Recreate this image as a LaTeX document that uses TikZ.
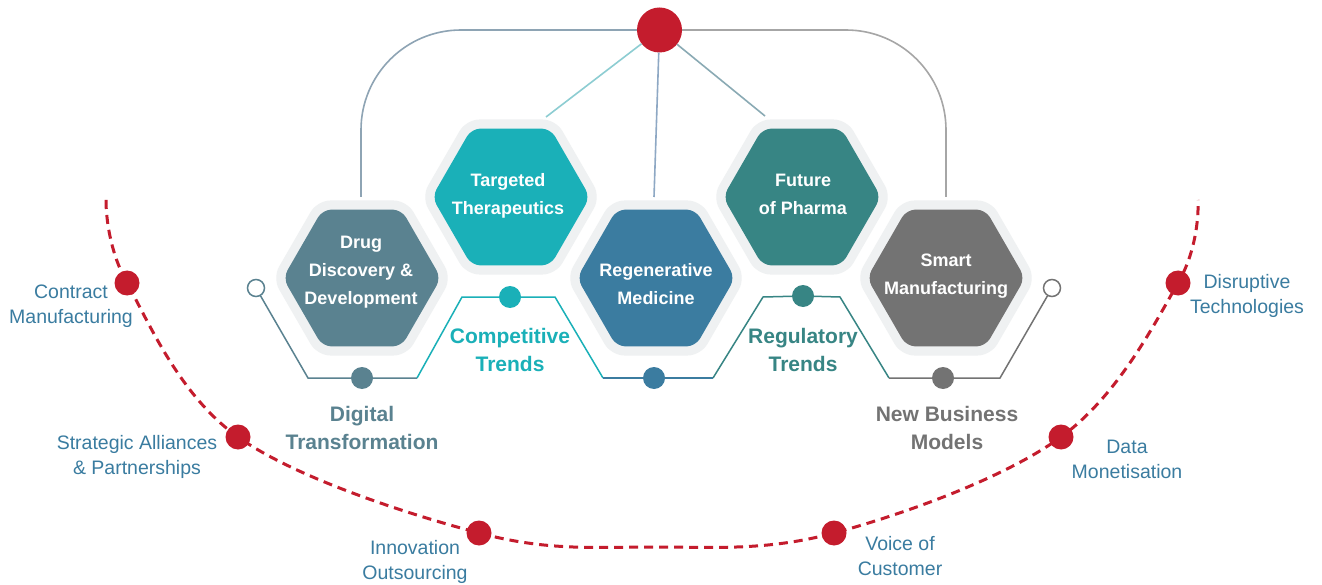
\documentclass[tikz,border=0pt]{standalone}
\usepackage{fontspec}
\setmainfont{Liberation Sans}
\usetikzlibrary{shapes.geometric}
\definecolor{cDrug}{HTML}{5A8290}
\definecolor{cTarg}{HTML}{1AB0B8}
\definecolor{cRegen}{HTML}{3B7CA0}
\definecolor{cFut}{HTML}{378584}
\definecolor{cSmart}{HTML}{737373}
\definecolor{cRed}{HTML}{C41C2D}
\definecolor{cHalo}{HTML}{EFF1F2}
\definecolor{cLab}{HTML}{3A7CA0}
\definecolor{cFrameL}{HTML}{8EA4B4}
\definecolor{cFrameR}{HTML}{A6A6A6}
\definecolor{cSpT}{HTML}{8DCDD2}
\definecolor{cSpR}{HTML}{8EA8C4}
\definecolor{cSpF}{HTML}{8AAAB4}
\begin{document}
\begin{tikzpicture}[x=1pt,y=-1pt,
 hexa/.style={regular polygon, regular polygon sides=6, inner sep=0pt, minimum size=158pt, rounded corners=9pt, draw=none},
 halo/.style={regular polygon, regular polygon sides=6, inner sep=0pt, minimum size=179pt, rounded corners=13pt, fill=cHalo, draw=none},
 hextext/.style={text=white, font=\bfseries\fontsize{18}{28}\selectfont, align=center},
 trend/.style={font=\bfseries\fontsize{21}{28}\selectfont, align=center},
 outer/.style={text=cLab, font=\fontsize{19.5}{25}\selectfont, align=center},
 reddot/.style={circle, fill=cRed, minimum size=25pt, inner sep=0pt},
 tdot/.style={circle, minimum size=22pt, inner sep=0pt},
 odot/.style={circle, draw, fill=white, line width=1.5pt, minimum size=17pt, inner sep=0pt},
 zig/.style={line width=1.5pt},
 frame/.style={line width=1.6pt, rounded corners=100pt},
 spoke/.style={line width=1.6pt},
 reddash/.style={draw=cRed, line width=3pt, dash pattern=on 9pt off 6pt}
]
\useasboundingbox (0,0) rectangle (1322,585);
\fill[white] (0,0) rectangle (1322,585);

% dashed arc
\coordinate (cs) at (106,200);
\coordinate (ce) at (1198,200);
\coordinate (cb) at (653,547);
\coordinate (p1) at (127,283);
\coordinate (p2) at (238,437);
\coordinate (p3) at (479,533);
\coordinate (p4) at (834,533);
\coordinate (p5) at (1061,437);
\coordinate (p6) at (1178,283);
\draw[reddash] plot[smooth, tension=0.6] coordinates {(cs) (p1) (p2) (p3) (cb) (p4) (p5) (p6) (ce)};
\node[reddot] (r1) at (p1) {};
\node[reddot] (r2) at (p2) {};
\node[reddot] (r3) at (p3) {};
\node[reddot] (r4) at (p4) {};
\node[reddot] (r5) at (p5) {};
\node[reddot] (r6) at (p6) {};

\node[outer] (l1) at (71,306) {Contract\\Manufacturing};
\node[outer] (l2) at (137,456.5) {Strategic Alliances\\\& Partnerships};
\node[outer] (l3) at (415,562) {Innovation\\Outsourcing};
\node[outer] (l4) at (900,556.5) {Voice of\\Customer};
\node[outer] (l5) at (1127,459.5) {Data\\Monetisation};
\node[outer] (l6) at (1247,296) {Disruptive\\Technologies};

% top circle and frame
\node[circle, fill=cRed, minimum size=45pt, inner sep=0pt] (top) at (659.5,30) {};
\coordinate (fl) at (361,197);
\coordinate (fr) at (946,197);
\draw[frame, cFrameL] (fl) |- (top.west);
\draw[frame, cFrameR] (top.east) -| (fr);
\coordinate (sT) at (546,117);
\coordinate (sR) at (654,197);
\coordinate (sF) at (765,116);
\draw[spoke, cSpT] (top) -- (sT);
\draw[spoke, cSpR] (top) -- (sR);
\draw[spoke, cSpF] (top) -- (sF);

% halos
\node[halo] (gD) at (362,278) {};
\node[halo] (gT) at (511,197) {};
\node[halo] (gR) at (656,278) {};
\node[halo] (gF) at (802,197) {};
\node[halo] (gS) at (946,278) {};
% hexagons
\node[hexa, fill=cDrug] (hD) at (362,278) {};
\node[hexa, fill=cTarg] (hT) at (511,197) {};
\node[hexa, fill=cRegen] (hR) at (656,278) {};
\node[hexa, fill=cFut] (hF) at (802,197) {};
\node[hexa, fill=cSmart] (hS) at (946,278) {};

\node[hextext] (tD) at (361,272) {Drug\\Discovery \&\\Development};
\node[hextext] (tT) at (508,196) {Targeted\\Therapeutics};
\node[hextext] (tR) at (656,284) {Regenerative\\Medicine};
\node[hextext] (tF) at (803,194.5) {Future\\of Pharma};
\node[hextext] (tS) at (946,276.5) {Smart\\Manufacturing};

% zigzag
\node[odot, draw=cDrug] (oL) at (256,288) {};
\node[odot, draw=cSmart] (oR) at (1052,288) {};
\coordinate (z1) at (308,378);
\coordinate (z2) at (417,378);
\coordinate (z3) at (462,297);
\coordinate (z4) at (555,297);
\coordinate (z5) at (603,378);
\coordinate (z6) at (713,378);
\coordinate (z7) at (763,297);
\coordinate (z8) at (840,297);
\coordinate (z9) at (889,378);
\coordinate (z10) at (1000,378);
\node[tdot, fill=cDrug] (dD) at (362,378) {};
\node[tdot, fill=cTarg] (dT) at (510,297) {};
\node[tdot, fill=cRegen] (dR) at (654,378) {};
\node[tdot, fill=cFut] (dF) at (803,296) {};
\node[tdot, fill=cSmart] (dS) at (943,378) {};
\draw[zig, cDrug] (oL) -- (z1) -- (dD) -- (z2);
\draw[zig, cTarg] (z2) -- (z3) -- (dT) -- (z4) -- (z5);
\draw[zig, cRegen] (z5) -- (dR) -- (z6);
\draw[zig, cFut] (z6) -- (z7) -- (dF) -- (z8) -- (z9);
\draw[zig, cSmart] (z9) -- (dS) -- (z10) -- (oR);

\node[trend, text=cDrug] (kD) at (362,427.5) {Digital\\Transformation};
\node[trend, text=cTarg] (kT) at (510,349.5) {Competitive\\Trends};
\node[trend, text=cFut] (kF) at (803,350) {Regulatory\\Trends};
\node[trend, text=cSmart] (kS) at (947,427.5) {New Business\\Models};
\end{tikzpicture}
\end{document}
